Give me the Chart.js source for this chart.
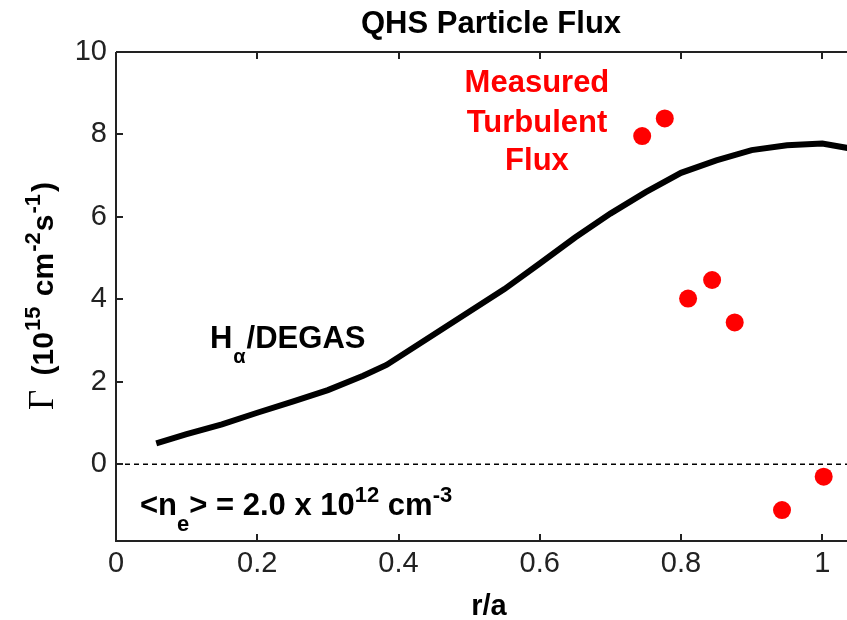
<!DOCTYPE html>
<html>
<head>
<meta charset="utf-8">
<title>QHS Particle Flux</title>
<script src="https://cdn.jsdelivr.net/npm/chart.js@4.4.1/dist/chart.umd.min.js"></script>
<style>
  html, body { margin: 0; padding: 0; background: #fff; overflow: hidden; }
  #wrap { width: 847px; height: 620px; }
</style>
</head>
<body>
<div id="wrap"><canvas id="flux" width="847" height="620"></canvas></div>
<script>
// H-alpha / DEGAS flux profile, units of 10^15 cm^-2 s^-1
const degasR    = [0.057, 0.1, 0.15, 0.2, 0.25, 0.3, 0.35, 0.383, 0.45, 0.5, 0.55, 0.6, 0.65, 0.7, 0.75, 0.8, 0.85, 0.9, 0.95, 1.0, 1.04];
const degasFlux = [0.51, 0.73, 0.97, 1.25, 1.52, 1.8, 2.15, 2.41, 3.15, 3.7, 4.25, 4.87, 5.5, 6.08, 6.6, 7.07, 7.37, 7.62, 7.74, 7.78, 7.66];

// measured turbulent flux (probe points)
const measR    = [0.745, 0.777, 0.81, 0.844, 0.876, 0.943, 1.002];
const measFlux = [7.96, 8.39, 4.02, 4.47, 3.44, -1.11, -0.30];

// dashed zero reference
const zeroR    = [0, 1.035];
const zeroFlux = [0, 0];

const xTicks = [0, 0.2, 0.4, 0.6, 0.8, 1];
const yTicks = [0, 2, 4, 6, 8, 10];

const FONT = '"Liberation Sans", Arial, Helvetica, sans-serif';
const SERIF = '"Liberation Serif", "Times New Roman", serif';

function pts(xs, ys) {
    return xs.map((x, i) => ({ x: x, y: ys[i] }));
}

function fontOf(p) {
    return (p.weight || 'bold') + ' ' + (p.size || 30) + 'px ' + (p.family || FONT);
}

// draws text pieces one after another (for super/subscripts)
function richText(ctx, parts, x, y, align, color) {
    let total = 0;
    parts.forEach(p => {
        ctx.font = fontOf(p);
        p.w = ctx.measureText(p.t).width + (p.gap || 0);
        total += p.w;
    });
    let cx = align === 'center' ? x - total / 2 : x;
    ctx.fillStyle = color || '#000';
    ctx.textAlign = 'left';
    ctx.textBaseline = 'alphabetic';
    parts.forEach(p => {
        ctx.font = fontOf(p);
        ctx.fillText(p.t, cx, y + (p.dy || 0));
        cx += p.w;
    });
}

// MATLAB style box: axis lines, inward ticks, labels and text annotations
const matlabFrame = {
    id: 'matlabFrame',
    afterDatasetsDraw(chart) {
        const ctx = chart.ctx;
        const a = chart.chartArea;
        const xs = chart.scales.x, ys = chart.scales.y;
        const tick = 7;

        ctx.save();
        ctx.strokeStyle = '#222';
        ctx.lineWidth = 2;
        ctx.beginPath();
        ctx.moveTo(a.left, a.top);
        ctx.lineTo(a.right, a.top);
        ctx.moveTo(a.left, a.top);
        ctx.lineTo(a.left, a.bottom);
        ctx.lineTo(a.right, a.bottom);
        xTicks.forEach(v => {
            const px = Math.round(xs.getPixelForValue(v));
            ctx.moveTo(px, a.bottom);
            ctx.lineTo(px, a.bottom - tick);
            ctx.moveTo(px, a.top);
            ctx.lineTo(px, a.top + tick);
        });
        yTicks.forEach(v => {
            const py = Math.round(ys.getPixelForValue(v));
            ctx.moveTo(a.left, py);
            ctx.lineTo(a.left + tick, py);
        });
        ctx.stroke();

        // title
        richText(ctx, [{ t: 'QHS Particle Flux', size: 31 }], 491, 33, 'center');

        // x axis title
        richText(ctx, [{ t: 'r/a', size: 29 }], 489, 615, 'center');

        // y axis title, rotated
        ctx.save();
        ctx.translate(53, 296);
        ctx.rotate(-Math.PI / 2);
        richText(ctx, [
            { t: 'Γ', family: SERIF, weight: 'normal', size: 35, gap: 6 },
            { t: ' (10', size: 30, gap: 1 },
            { t: '15', size: 22, dy: -13, gap: 2 },
            { t: ' cm', size: 30, gap: 1 },
            { t: '-2', size: 22, dy: -13, gap: 1 },
            { t: 's', size: 30, gap: 1 },
            { t: '-1', size: 22, dy: -13, gap: 2 },
            { t: ')', size: 30 }
        ], 0, 0, 'center');
        ctx.restore();

        // red label near the measured points
        const redX = xs.getPixelForValue(0.596);
        [['Measured', 9.02], ['Turbulent', 8.05], ['Flux', 7.13]].forEach(l => {
            richText(ctx, [{ t: l[0], size: 31 }], redX, ys.getPixelForValue(l[1]), 'center', '#ff0000');
        });

        // model curve label
        richText(ctx, [
            { t: 'H', size: 31, gap: 1 },
            { t: 'α', size: 20, dy: 15, gap: 1 },
            { t: '/DEGAS', size: 31 }
        ], xs.getPixelForValue(0.133), ys.getPixelForValue(2.82), 'left');

        // density note
        richText(ctx, [
            { t: '<n', size: 31 },
            { t: 'e', size: 22, dy: 16 },
            { t: '> = 2.0 x 10', size: 31 },
            { t: '12', size: 22, dy: -13 },
            { t: ' cm', size: 31 },
            { t: '-3', size: 22, dy: -13 }
        ], xs.getPixelForValue(0.034), ys.getPixelForValue(-1.23), 'left');

        ctx.restore();
    }
};

Chart.defaults.font.family = FONT;

new Chart(document.getElementById('flux'), {
    type: 'line',
    data: {
        datasets: [
            {
                label: 'zero',
                data: pts(zeroR, zeroFlux),
                borderColor: '#000',
                borderWidth: 1.5,
                borderDash: [5, 4],
                pointRadius: 0,
                fill: false
            },
            {
                label: 'Halpha/DEGAS',
                data: pts(degasR, degasFlux),
                borderColor: '#000',
                borderWidth: 6,
                pointRadius: 0,
                tension: 0,
                fill: false
            },
            {
                label: 'Measured Turbulent Flux',
                data: pts(measR, measFlux),
                showLine: false,
                pointStyle: 'circle',
                pointRadius: 9,
                pointBackgroundColor: '#ff0000',
                pointBorderWidth: 0,
                borderColor: '#ff0000'
            }
        ]
    },
    options: {
        responsive: false,
        animation: false,
        layout: { autoPadding: false, padding: { top: 52, left: 0, right: 0, bottom: 0 } },
        plugins: {
            legend: { display: false },
            tooltip: { enabled: false },
            title: { display: false }
        },
        scales: {
            x: {
                type: 'linear',
                min: 0,
                max: 1.035,
                grid: { display: false, drawTicks: false },
                border: { display: false },
                afterBuildTicks: s => { s.ticks = xTicks.map(v => ({ value: v })); },
                afterFit: s => {
                    s.height = 79;
                    s.paddingLeft = 0;
                    s.paddingRight = 0;
                },
                ticks: {
                    padding: 6,
                    color: '#222',
                    maxRotation: 0,
                    autoSkip: false,
                    font: { size: 29 },
                    callback: v => String(+v.toFixed(1))
                }
            },
            y: {
                min: -1.86,
                max: 10,
                grid: { display: false, drawTicks: false },
                border: { display: false },
                afterBuildTicks: s => { s.ticks = yTicks.map(v => ({ value: v })); },
                afterFit: s => { s.width = 116; },
                ticks: {
                    padding: 9,
                    color: '#222',
                    font: { size: 29 },
                    callback: v => String(v)
                }
            }
        }
    },
    plugins: [matlabFrame]
});
</script>
</body>
</html>
